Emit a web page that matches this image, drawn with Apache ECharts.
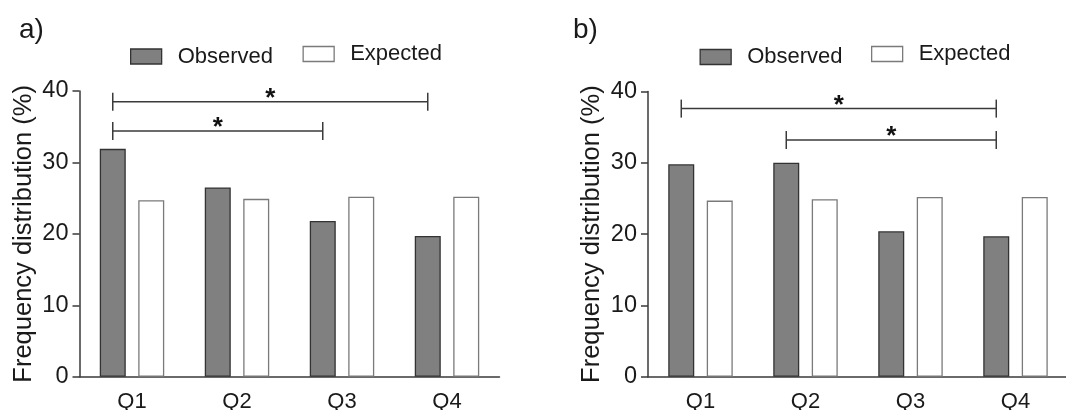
<!DOCTYPE html>
<html>
<head>
<meta charset="utf-8">
<script src="https://cdn.jsdelivr.net/npm/echarts@6/dist/echarts.min.js"></script>
<style>
html,body{margin:0;padding:0;background:#fff;}
#chart{width:1066px;height:410px;}
</style>
</head>
<body>
<div id="chart"></div>
<script>
// ---- data ----
const categories = ['Q1', 'Q2', 'Q3', 'Q4'];
const observedA = [31.9, 26.5, 21.8, 19.7];
const expectedA = [24.7, 24.9, 25.2, 25.2];
const observedB = [29.8, 30.0, 20.4, 19.7];
const expectedB = [24.7, 24.9, 25.2, 25.2];
// significance brackets: [from category index, to category index, height]
const bracketsA = [[0, 3, 38.5], [0, 2, 34.4]];
const bracketsB = [[0, 3, 37.6], [1, 3, 33.2]];
const yMin = 0, yMax = 40, yStep = 10;
const panelLabels = ['a)', 'b)'];
const seriesNames = ['Observed', 'Expected'];

// ---- style ----
const FONT = 'Liberation Sans, Arial, sans-serif';
const BAR_W = 26;
const BAR_GAP = 0.48;
const OBS_FILL = '#808080', OBS_BORDER = '#333333';
const EXP_FILL = '#ffffff', EXP_BORDER = '#7a7a7a';
const AXIS_COLOR = '#3a3a3a';

const chart = echarts.init(document.getElementById('chart'), null, {renderer: 'canvas'});

function bracketRender(params, api) {
  const off = -(BAR_W * (1 + BAR_GAP)) / 2;
  const p1 = api.coord([api.value(0), api.value(2)]);
  const p2 = api.coord([api.value(1), api.value(2)]);
  const x1 = p1[0] + off, x2 = p2[0] + off, y = p1[1];
  const h = 9;
  const ls = {stroke: '#3a3a3a', lineWidth: 1.5};
  return {
    type: 'group',
    children: [
      {type: 'line', shape: {x1: x1, y1: y, x2: x2, y2: y}, style: ls},
      {type: 'line', shape: {x1: x1, y1: y - h, x2: x1, y2: y + h}, style: ls},
      {type: 'line', shape: {x1: x2, y1: y - h, x2: x2, y2: y + h}, style: ls},
      {type: 'text', x: (x1 + x2) / 2, y: y + 10,
        style: {text: '*', fontFamily: FONT, fontSize: 26, fontWeight: 'bold', fill: '#111',
          align: 'center', verticalAlign: 'bottom'}}
    ]
  };
}

const grids = [
  {left: 79.5, top: 91, width: 420, height: 285.7, outerBoundsMode: 'none', containLabel: false},
  {left: 648, top: 91.5, width: 420, height: 285.2, outerBoundsMode: 'none', containLabel: false}
];

function xAxis(i) {
  return {
    type: 'category', gridIndex: i, data: categories, boundaryGap: true,
    axisLine: {lineStyle: {color: AXIS_COLOR, width: 1.5}},
    axisTick: {alignWithLabel: true, length: 7, lineStyle: {color: AXIS_COLOR, width: 1.5}},
    axisLabel: {fontFamily: FONT, fontSize: 22, color: '#1a1a1a', margin: 14}
  };
}
function yAxis(i) {
  return {
    type: 'value', gridIndex: i, min: yMin, max: yMax, interval: yStep,
    name: 'Frequency distribution (%)', nameLocation: 'middle', nameGap: 43,
    nameTextStyle: {fontFamily: FONT, fontSize: 25.5, color: '#1a1a1a'},
    splitLine: {show: false},
    axisLine: {show: true, lineStyle: {color: AXIS_COLOR, width: 1.5}},
    axisTick: {show: true, length: 7, lineStyle: {color: AXIS_COLOR, width: 1.5}},
    axisLabel: {fontFamily: FONT, fontSize: 23.5, color: '#1a1a1a', margin: 11}
  };
}

function bars(i, obs, exp) {
  return [
    {name: seriesNames[0], type: 'bar', xAxisIndex: i, yAxisIndex: i, data: obs,
      barWidth: BAR_W, barGap: (BAR_GAP * 100) + '%',
      itemStyle: {color: OBS_FILL, borderColor: OBS_BORDER, borderWidth: 1.3}, silent: true},
    {name: seriesNames[1], type: 'bar', xAxisIndex: i, yAxisIndex: i, data: exp,
      barWidth: BAR_W, barGap: (BAR_GAP * 100) + '%',
      itemStyle: {color: EXP_FILL, borderColor: EXP_BORDER, borderWidth: 1.3}, silent: true}
  ];
}

function legendItem(name, left, top) {
  const isObs = name === seriesNames[0];
  return {
    data: [{name: name, itemStyle: {color: isObs ? OBS_FILL : EXP_FILL,
      borderColor: isObs ? OBS_BORDER : EXP_BORDER, borderWidth: 1.3}}],
    left: left, top: top, padding: 0, icon: 'rect', itemWidth: 31, itemHeight: 15, selectedMode: false,
    textStyle: {fontFamily: FONT, fontSize: 22, color: '#1a1a1a', padding: [0, 0, 0, 11]}
  };
}

const option = {
  animation: false,
  backgroundColor: '#ffffff',
  title: [
    {text: panelLabels[0], left: 19, top: 16, padding: 0, textStyle: {fontFamily: FONT, fontSize: 28, fontWeight: 'normal', color: '#1a1a1a'}},
    {text: panelLabels[1], left: 573, top: 16, padding: 0, textStyle: {fontFamily: FONT, fontSize: 28, fontWeight: 'normal', color: '#1a1a1a'}}
  ],
  legend: [
    legendItem(seriesNames[0], 130, 45.5),
    legendItem(seriesNames[1], 302.5, 43),
    legendItem(seriesNames[0], 699.5, 46),
    legendItem(seriesNames[1], 871, 43)
  ],
  grid: grids,
  xAxis: [xAxis(0), xAxis(1)],
  yAxis: [yAxis(0), yAxis(1)],
  series: [
    ...bars(0, observedA, expectedA),
    ...bars(1, observedB, expectedB),
    {type: 'custom', name: 'bracketsA', xAxisIndex: 0, yAxisIndex: 0, data: bracketsA,
      renderItem: bracketRender, encode: {x: [0, 1], y: 2}, silent: true, z: 5},
    {type: 'custom', name: 'bracketsB', xAxisIndex: 1, yAxisIndex: 1, data: bracketsB,
      renderItem: bracketRender, encode: {x: [0, 1], y: 2}, silent: true, z: 5}
  ]
};
chart.setOption(option);
</script>
</body>
</html>
